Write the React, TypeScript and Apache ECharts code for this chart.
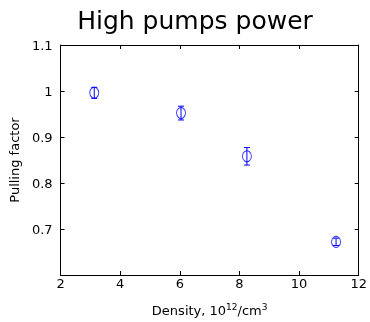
import React, { useEffect, useRef } from "react";
import * as echarts from "echarts";

const densities = [3.13, 6.04, 8.25, 11.24];
const pullingFactor = [0.996, 0.952, 0.858, 0.672];
const errors = [0.012, 0.015, 0.019, 0.008];
const xTicks = [2, 4, 6, 8, 10, 12];
const yTicks = [0.7, 0.8, 0.9, 1, 1.1];

const FONT = "DejaVu Sans, Liberation Sans, Arial, sans-serif";
const BLUE = "#0000ff";

export default function App() {
  const ref = useRef<HTMLDivElement>(null);
  useEffect(() => {
    if (!ref.current) return;
    const chart = echarts.init(ref.current, undefined, { renderer: "svg" });
    const points = densities.map((d, i) => [d, pullingFactor[i]]);
    const errData = densities.map((d, i) => [d, pullingFactor[i] - errors[i], pullingFactor[i] + errors[i]]);
    const tickSet = (v: number) => yTicks.some((t) => Math.abs(t - v) < 1e-6);
    const baseAxisLine = { show: true, lineStyle: { color: "#000", width: 1 } };
    const tick = { show: true, inside: true, length: 4, lineStyle: { color: "#000" } };
    chart.setOption({
      animation: false,
      title: {
        text: "High pumps power",
        left: 190,
        top: 3,
        textAlign: "center",
        textStyle: { fontFamily: FONT, fontSize: 25, fontWeight: "normal", color: "#000" },
      },
      grid: { left: 58, right: 10, top: 45, bottom: 46, containLabel: false },
      xAxis: [
        {
          type: "value",
          min: 2,
          max: 12,
          interval: 2,
          position: "bottom",
          axisLine: baseAxisLine,
          axisTick: tick,
          axisLabel: {
            fontFamily: FONT,
            fontSize: 13,
            color: "#000",
            margin: 2,
            formatter: (v: number) => (xTicks.includes(v) ? String(v) : ""),
          },
          splitLine: { show: false },
          name: "{a|Density, 10}{s|12}{a|/cm}{s|3}",
          nameLocation: "middle",
          nameGap: 27,
          nameTextStyle: {
            rich: {
              a: { fontFamily: FONT, fontSize: 13, color: "#000", verticalAlign: "bottom", lineHeight: 15 },
              s: { fontFamily: FONT, fontSize: 9, color: "#000", verticalAlign: "top", lineHeight: 15, padding: [0, 0, 6, 0] },
            },
          },
        },
        {
          type: "value",
          min: 2,
          max: 12,
          interval: 2,
          position: "top",
          axisLine: baseAxisLine,
          axisTick: tick,
          axisLabel: { show: false },
          splitLine: { show: false },
        },
      ],
      yAxis: [
        {
          type: "value",
          min: 0.6,
          max: 1.1,
          interval: 0.1,
          position: "left",
          axisLine: baseAxisLine,
          axisTick: tick,
          axisLabel: {
            fontFamily: FONT,
            fontSize: 13,
            color: "#000",
            margin: 8,
            formatter: (v: number) => (tickSet(v) ? String(Math.round(v * 10) / 10) : ""),
          },
          splitLine: { show: false },
          name: "Pulling factor",
          nameLocation: "middle",
          nameGap: 36,
          nameRotate: 90,
          nameTextStyle: { fontFamily: FONT, fontSize: 13, color: "#000" },
        },
        {
          type: "value",
          min: 0.6,
          max: 1.1,
          interval: 0.1,
          position: "right",
          axisLine: baseAxisLine,
          axisTick: tick,
          axisLabel: { show: false },
          splitLine: { show: false },
        },
      ],
      series: [
        {
          type: "custom",
          xAxisIndex: 0,
          yAxisIndex: 0,
          data: errData,
          renderItem: (params: any, api: any) => {
            const x = api.value(0);
            const lo = api.coord([x, api.value(1)]);
            const hi = api.coord([x, api.value(2)]);
            const cap = 3;
            const style = { stroke: BLUE, lineWidth: 1 };
            return {
              type: "group",
              children: [
                { type: "line", shape: { x1: lo[0], y1: lo[1], x2: hi[0], y2: hi[1] }, style },
                { type: "line", shape: { x1: lo[0] - cap, y1: lo[1], x2: lo[0] + cap, y2: lo[1] }, style },
                { type: "line", shape: { x1: hi[0] - cap, y1: hi[1], x2: hi[0] + cap, y2: hi[1] }, style },
              ],
            };
          },
          z: 4,
        },
        {
          type: "scatter",
          xAxisIndex: 0,
          yAxisIndex: 0,
          data: points,
          symbol: "circle",
          symbolSize: [9, 11],
          itemStyle: { color: "none", borderColor: BLUE, borderWidth: 1 },
          z: 3,
        },
      ],
    });
    return () => chart.dispose();
  }, []);
  return <div ref={ref} style={{ position: "fixed", left: 0, top: 0, width: 370, height: 322 }} />;
}
